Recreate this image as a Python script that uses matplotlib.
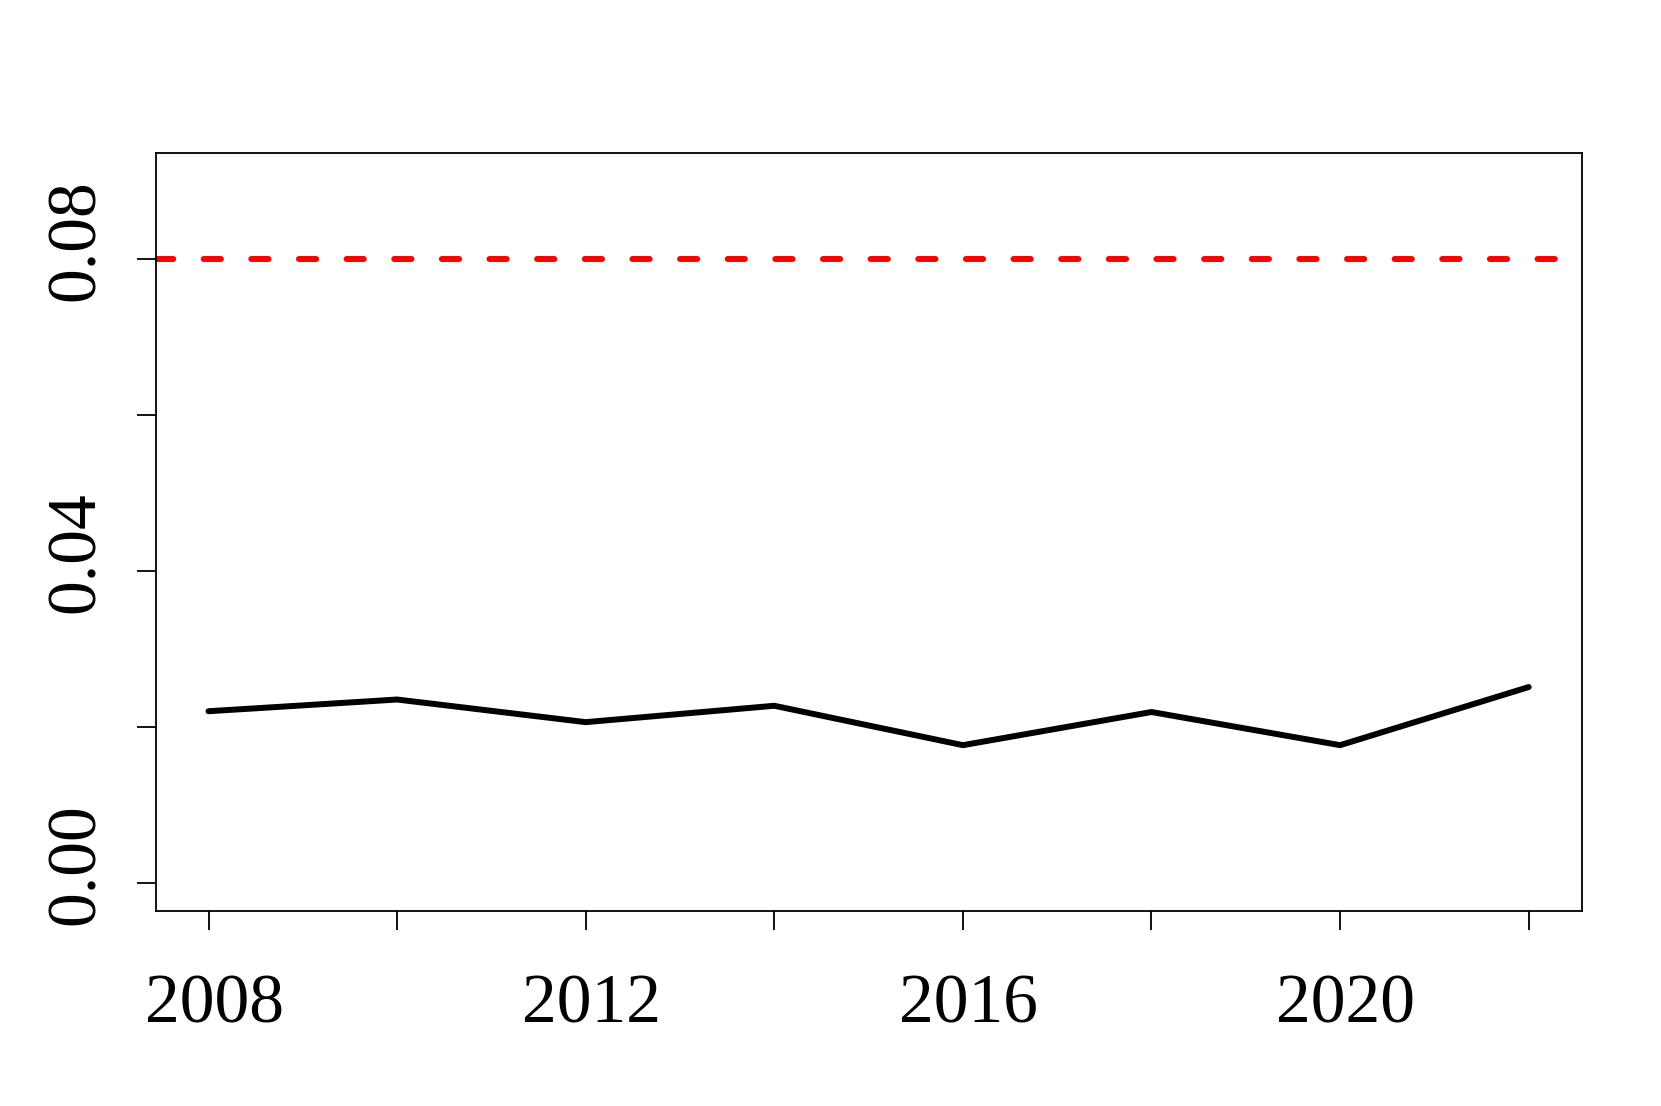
import matplotlib
matplotlib.use('Agg')
import matplotlib.pyplot as plt
import matplotlib.transforms as mtransforms

# ---- data ----
years = [2008, 2010, 2012, 2014, 2016, 2018, 2020, 2022]
values = [0.0220, 0.0235, 0.0206, 0.0227, 0.01765, 0.0219, 0.01765, 0.0251]
threshold = 0.08
xtick_positions = [2008, 2010, 2012, 2014, 2016, 2018, 2020, 2022]
xtick_labels = ['2008', '', '2012', '', '2016', '', '2020', '']
ytick_positions = [0.00, 0.02, 0.04, 0.06, 0.08]
ytick_labels = ['0.00', '', '0.04', '', '0.08']

plt.rcParams['font.family'] = ['Liberation Serif', 'DejaVu Serif']

W, H = 1661, 1106
fig = plt.figure(figsize=(W / 100, H / 100), dpi=100)
left, right, top, bottom = 155.7, 1581.5, 152.5, 911.0
ax = fig.add_axes([left / W, 1 - bottom / H, (right - left) / W, (bottom - top) / H])

lw = 4.3
ax.plot(years, values, color='black', lw=lw,
        solid_joinstyle='round', solid_capstyle='round')
ax.axhline(threshold, color='red', lw=lw,
           linestyle=(0, (12.45 / lw, 21.85 / lw)), dash_capstyle='round')

ax.set_xlim(2007.44, 2022.56)
ax.set_ylim(-0.0036, 0.0936)

ax.set_xticks(xtick_positions)
ax.set_xticklabels(xtick_labels)
ax.set_yticks(ytick_positions)
ax.set_yticklabels(ytick_labels)

for sp in ax.spines.values():
    sp.set_linewidth(1.3)

ax.tick_params(length=14, width=1.3, labelsize=50, color='black')
ax.tick_params(axis='x', pad=31.5)
ax.tick_params(axis='y', pad=20, labelrotation=90)

for lbl in ax.get_yticklabels():
    lbl.set_va('center')
    lbl.set_transform(lbl.get_transform() +
                      mtransforms.ScaledTranslation(0, 19 / 100, fig.dpi_scale_trans))
for lbl in ax.get_xticklabels():
    lbl.set_transform(lbl.get_transform() +
                      mtransforms.ScaledTranslation(5.5 / 100, 0, fig.dpi_scale_trans))

fig.savefig('out.png', dpi=100, facecolor='white')
